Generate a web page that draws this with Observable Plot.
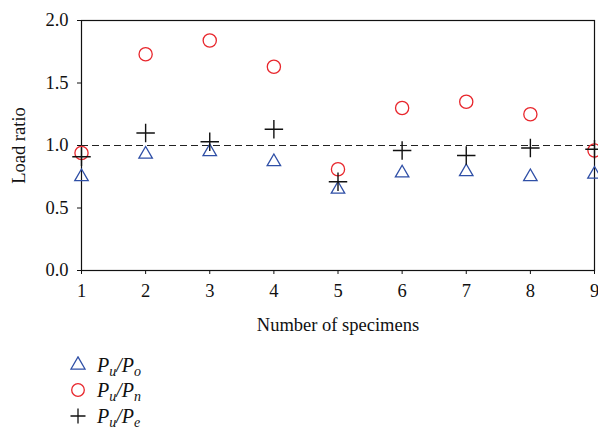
<!DOCTYPE html>
<html>
<head>
<meta charset="utf-8">
<script src="https://cdn.jsdelivr.net/npm/d3@7"></script>
<script src="https://cdn.jsdelivr.net/npm/@observablehq/plot@0.6"></script>
<style>
  html, body { margin: 0; padding: 0; background: #fff; }
  #wrap { position: relative; width: 598px; height: 430px; font-family: "Liberation Serif", "DejaVu Serif", serif; }
  #legend { position: absolute; left: 69px; top: 352px; }
  .row { height: 25.5px; display: flex; align-items: center; }
  .row svg { width: 18px; height: 18px; margin-right: 10px; }
  .lab { font-family: "Liberation Serif", serif; font-style: italic; font-size: 20px; color: #111; line-height: 20px; }
  .lab sub { font-size: 14px; vertical-align: -4px; line-height: 0; }
</style>
</head>
<body>
<div id="wrap"><div id="chart"></div><div id="legend"></div></div>
<script>
const specimens = [1, 2, 3, 4, 5, 6, 7, 8, 9];
const puPo = [0.75, 0.93, 0.95, 0.87, 0.65, 0.78, 0.79, 0.75, 0.77];
const puPn = [0.94, 1.73, 1.84, 1.63, 0.81, 1.30, 1.35, 1.25, 0.96];
const puPe = [0.91, 1.10, 1.03, 1.13, 0.71, 0.96, 0.92, 0.98, 0.97];
const yTicks = [0, 0.5, 1.0, 1.5, 2.0];
const xTicks = [1, 2, 3, 4, 5, 6, 7, 8, 9];
const seriesNames = ["Pu/Po", "Pu/Pn", "Pu/Pe"];
const seriesColors = ["#2f4fa6", "#e8262c", "#111111"];
const seriesSymbols = ["triangle", "circle", "plus"];

const rows = (vals) => specimens.map((s, i) => ({x: s, y: vals[i]}));

const chart = Plot.plot({
  width: 598,
  height: 336,
  marginLeft: 81,
  marginRight: 4,
  marginTop: 20,
  marginBottom: 66,
  style: {fontFamily: "Liberation Serif, serif", fontSize: "18px", color: "#111", background: "#fff"},
  x: {domain: [1, 9]},
  y: {domain: [0, 2]},
  marks: [
    Plot.axisX({ticks: xTicks, tickSize: 4, tickPadding: 9, tickFormat: d3.format("d"), fontSize: 18.5, label: "Number of specimens", labelAnchor: "center", labelArrow: "none", labelOffset: 60}),
    Plot.axisY({ticks: yTicks, tickSize: 4, tickPadding: 9, tickFormat: d3.format(".1f"), fontSize: 18.5, label: "Load ratio", labelAnchor: "center", labelArrow: "none", labelOffset: 70}),
    Plot.frame({stroke: "#111", strokeWidth: 1.2}),
    Plot.ruleY([1], {stroke: "#222", strokeWidth: 1.2, strokeDasharray: "7,4"}),
    Plot.dot(rows(puPo), {x: "x", y: "y", symbol: "triangle", r: 5, stroke: seriesColors[0], fill: "none", strokeWidth: 1.3}),
    Plot.dot(rows(puPn), {x: "x", y: "y", symbol: "circle", r: 6.6, stroke: seriesColors[1], fill: "none", strokeWidth: 1.3}),
    Plot.dot(rows(puPe), {x: "x", y: "y", symbol: "plus", r: 6, stroke: seriesColors[2], fill: "none", strokeWidth: 1.4})
  ]
});
document.getElementById("chart").appendChild(chart);

// legend
const subs = [["u", "o"], ["u", "n"], ["u", "e"]];
const legend = d3.select("#legend");
seriesNames.forEach((name, i) => {
  const row = legend.append("div").attr("class", "row");
  const svg = row.append("svg").attr("viewBox", "-9 -9 18 18");
  const sym = {triangle: d3.symbolTriangle, circle: d3.symbolCircle, plus: d3.symbolPlus}[seriesSymbols[i]];
  const size = seriesSymbols[i] === "circle" ? Math.PI * 6.3 * 6.3 : seriesSymbols[i] === "triangle" ? Math.PI * 5.2 * 5.2 : Math.PI * 4.9 * 4.9;
  svg.append("path").attr("d", d3.symbol(sym, size)()).attr("fill", "none").attr("stroke", seriesColors[i]).attr("stroke-width", 1.3);
  row.append("span").attr("class", "lab").html(`P<sub>${subs[i][0]}</sub>/P<sub>${subs[i][1]}</sub>`);
});
</script>
</body>
</html>
